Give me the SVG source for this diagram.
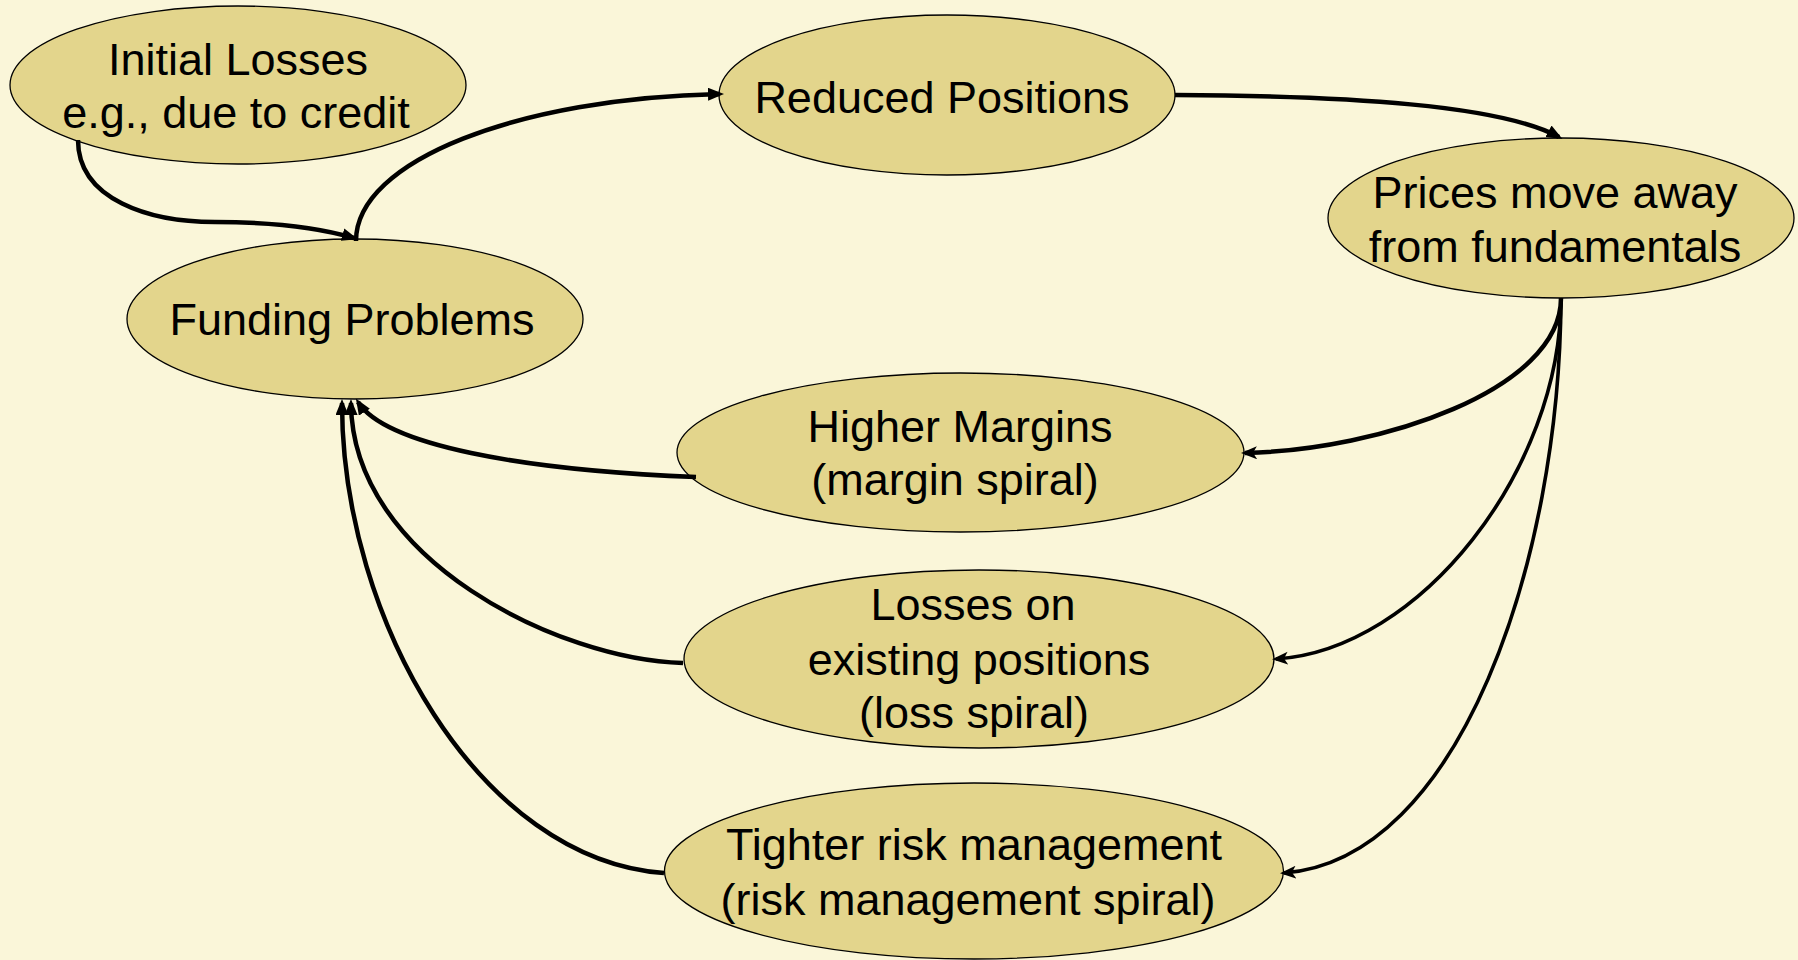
<svg xmlns="http://www.w3.org/2000/svg" width="1798" height="960" viewBox="0 0 1798 960">
<defs>
<style>
.node ellipse{fill:#E3D58C;stroke:#000;stroke-width:1.3}
.node text{font-family:"Liberation Sans",Arial,sans-serif;font-size:45px;fill:#000;text-anchor:middle}
.conn path{fill:none;stroke:#000;stroke-width:4.5}
.conn path.thin{stroke-width:3.6}
</style>
<marker id="arr" markerUnits="userSpaceOnUse" markerWidth="18" markerHeight="14" refX="12" refY="6.5" orient="auto">
<path d="M0,0 L16,6.5 L0,13 Z" fill="#000"/>
</marker>
<marker id="arr2" markerUnits="userSpaceOnUse" markerWidth="18" markerHeight="14" refX="12" refY="6.5" orient="auto">
<path d="M0,0 L16,6.5 L0,13 L4,6.5 Z" fill="#000"/>
</marker>
</defs>
<rect width="1798" height="960" fill="#FAF6D9"/>
<g id="n-initial" class="node">
<ellipse cx="238" cy="85" rx="228" ry="79"/>
<text x="238" y="75">Initial Losses</text>
<text x="236" y="128">e.g., due to credit</text>
</g>
<g id="n-funding" class="node">
<ellipse cx="355" cy="319" rx="228" ry="80"/>
<text x="352" y="335">Funding Problems</text>
</g>
<g id="n-reduced" class="node">
<ellipse cx="947" cy="95" rx="228" ry="80"/>
<text x="942" y="113">Reduced Positions</text>
</g>
<g id="n-prices" class="node">
<ellipse cx="1561" cy="218" rx="233" ry="80"/>
<text x="1555" y="208">Prices move away</text>
<text x="1555" y="262">from fundamentals</text>
</g>
<g id="n-margins" class="node">
<ellipse cx="960.5" cy="452.5" rx="283.5" ry="79.5"/>
<text x="960" y="442">Higher Margins</text>
<text x="955" y="495">(margin spiral)</text>
</g>
<g id="n-losses" class="node">
<ellipse cx="979" cy="659" rx="295" ry="89"/>
<text x="973" y="620">Losses on</text>
<text x="979" y="675">existing positions</text>
<text x="974" y="728">(loss spiral)</text>
</g>
<g id="n-tighter" class="node">
<ellipse cx="974" cy="871" rx="309.5" ry="88"/>
<text x="974" y="860">Tighter risk management</text>
<text x="968" y="915">(risk management spiral)</text>
</g>
<g id="connectors" class="conn">
<path d="M78,140 C78,200 150,222 215,222 C280,222 320,228 354,238" marker-end="url(#arr)"/>
<path d="M356,241 C356,160 520,98 720,94" marker-end="url(#arr)"/>
<path d="M1175,95 C1350,96 1500,105 1559,137" marker-end="url(#arr)"/>
<path d="M1561,298 C1561,390 1380,450 1245,453" marker-end="url(#arr2)"/>
<path class="thin" d="M1561,298 C1561,470 1420,650 1276,659" marker-end="url(#arr2)"/>
<path class="thin" d="M1561,298 C1560,560 1460,860 1284,873" marker-end="url(#arr2)"/>
<path d="M696,477 C520,470 385,445 358,402" marker-end="url(#arr)"/>
<path d="M683,663 C560,660 352,560 351,403" marker-end="url(#arr)"/>
<path d="M664,873 C480,860 342,620 342,403" marker-end="url(#arr)"/>
</g>
</svg>
